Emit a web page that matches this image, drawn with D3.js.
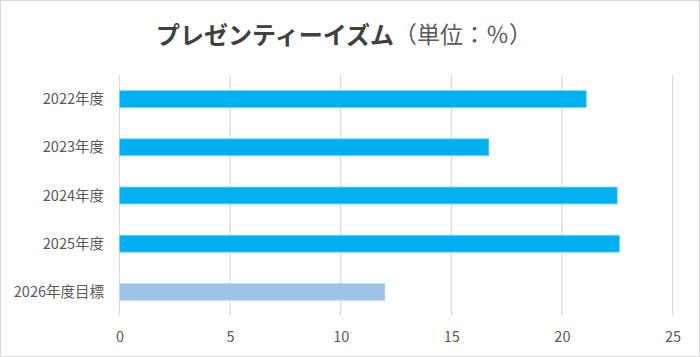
<!DOCTYPE html>
<html>
<head>
<meta charset="utf-8">
<script src="https://cdn.jsdelivr.net/npm/d3@7"></script>
<style>
html,body{margin:0;padding:0;background:#fff;}
svg{display:block;}
text{font-family:"Noto Sans CJK JP","Noto Sans",sans-serif;}
</style>
</head>
<body>
<svg id="chart" width="700" height="357"></svg>
<script>
const categories = ["2022年度","2023年度","2024年度","2025年度","2026年度目標"];
const values = [21.1, 16.7, 22.5, 22.6, 12.0];
const barColors = ["#00B0F0","#00B0F0","#00B0F0","#00B0F0","#9DC3E6"];
const xTicks = [0,5,10,15,20,25];
const titleMain = "プレゼンティーイズム";
const titleUnit = "（単位：％）";

const svg = d3.select("#chart");
const W = 700, H = 357;

svg.append("rect").attr("x",0.5).attr("y",0.5).attr("width",W-1).attr("height",H-1)
  .attr("fill","#fff").attr("stroke","#d9d9d9").attr("stroke-width",1);

const x = d3.scaleLinear().domain([0,25]).range([119.5,672.5]);
const y = d3.scaleBand().domain(categories).range([75,316]).paddingInner(0.65).paddingOuter(0.325);

// gridlines
svg.append("g").selectAll("line").data(xTicks).join("line")
  .attr("x1",d=>x(d)).attr("x2",d=>x(d))
  .attr("y1",75).attr("y2",316)
  .attr("stroke","#d9d9d9").attr("stroke-width",1.2);

// bars
svg.append("g").selectAll("rect").data(values).join("rect")
  .attr("x",x(0))
  .attr("y",(d,i)=>y(categories[i]))
  .attr("width",d=>x(d)-x(0))
  .attr("height",y.bandwidth())
  .attr("fill",(d,i)=>barColors[i])
  .attr("stroke",(d,i)=> i<4 ? "#6fd3f7" : "#c4dcf2")
  .attr("stroke-width",0.8);

// y axis labels
const yAxis = d3.axisLeft(y).tickSize(0).tickPadding(0);
const gy = svg.append("g").attr("transform","translate(104,0)").call(yAxis);
gy.select(".domain").remove();
gy.selectAll("text").attr("font-size",14.5).attr("fill","#595959")
  .attr("font-family",'"Noto Sans CJK JP",sans-serif').attr("dy","0.35em");

// x axis labels
const xAxis = d3.axisBottom(x).tickValues(xTicks).tickSize(0).tickPadding(0);
const gx = svg.append("g").attr("transform","translate(0,337)").call(xAxis);
gx.select(".domain").remove();
gx.selectAll("text").attr("font-size",14.5).attr("fill","#595959")
  .attr("font-family",'"Noto Sans CJK JP",sans-serif').attr("dy","0.35em");

// title
const t = svg.append("text").attr("x",344).attr("y",33).attr("text-anchor","middle")
  .attr("dominant-baseline","central").attr("fill","#404040");
t.append("tspan").attr("font-weight","bold").attr("font-size",24).text(titleMain);
t.append("tspan").attr("font-weight","normal").attr("font-size",23).attr("fill","#595959").text(titleUnit);
</script>
</body>
</html>
